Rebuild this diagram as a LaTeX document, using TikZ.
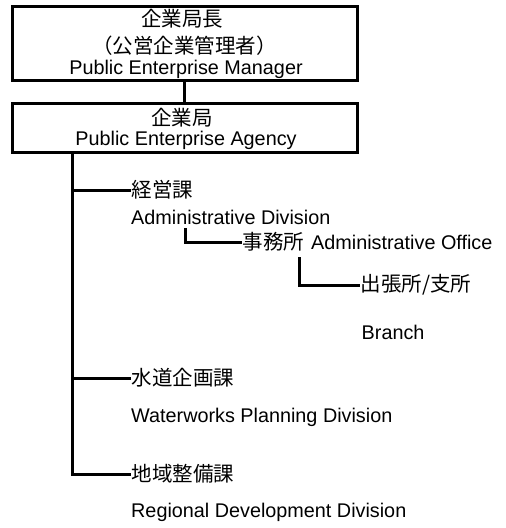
\documentclass[tikz,border=0pt]{standalone}
\usepackage{fontspec}
\setmainfont{Liberation Sans}
\newfontfamily\jp{Noto Sans CJK JP}
\begin{document}
\begin{tikzpicture}[x=1pt,y=-1pt,
  box/.style={draw,line width=3pt,inner sep=0pt},
  lbl/.style={inner sep=0.5pt,font=\fontsize{19.8}{23}\selectfont},
  jlbl/.style={inner sep=0.5pt,font=\fontsize{20.5}{23}\selectfont\jp},
  wl/.style={anchor=west},
  conn/.style={line width=3pt}]
\useasboundingbox (0,0) rectangle (506,528);
% boxes
\node[box,minimum width=345pt,minimum height=74pt] (mgr) at (184.5,43) {};
\node[box,minimum width=345pt,minimum height=49pt] (agency) at (184.5,127.5) {};
\node[jlbl] (mgrj) at (182,19) {企業局長};
\node[jlbl] (mgrj2) at (184.5,46) {（公営企業管理者）};
\node[lbl] (mgre) at (186,69) {Public Enterprise Manager};
\node[jlbl] (agj) at (182,118) {企業局};
\node[lbl] (age) at (186,140) {Public Enterprise Agency};
% divisions
\node[jlbl,wl] (keiei) at (131,190) {経営課};
\node[lbl,wl] (adiv) at (130.5,217) {Administrative Division};
\node[lbl,wl] (office) at (242,242) {{\jp\fontsize{20.5}{23}\selectfont 事務所}\hspace{1.5pt} Administrative Office};
\node[jlbl,wl] (branchj) at (360,285) {出張所/支所};
\node[lbl,wl] (branche) at (361,332) {Branch};
\node[jlbl,wl] (suido) at (131,378) {水道企画課};
\node[lbl,wl] (wpd) at (130.5,417) {Waterworks Planning Division};
\node[jlbl,wl] (chiiki) at (131,474) {地域整備課};
\node[lbl,wl] (rdd) at (130.5,512) {Regional Development Division};
% connectors
\coordinate (t0) at (72,152);
\coordinate (t1) at (72,474);
\draw[conn] (mgr.south) -- (agency.north);
\draw[conn] (t0) -- (t1) -- (chiiki.west);
\draw[conn] (t0 |- keiei.west) -- (keiei.west);
\draw[conn] (t0 |- suido.west) -- (suido.west);
\coordinate (s1) at (185,228);
\draw[conn] (s1) |- (office.west);
\coordinate (s2) at (299,257);
\draw[conn] (s2) |- (branchj.west);
\end{tikzpicture}
\end{document}
